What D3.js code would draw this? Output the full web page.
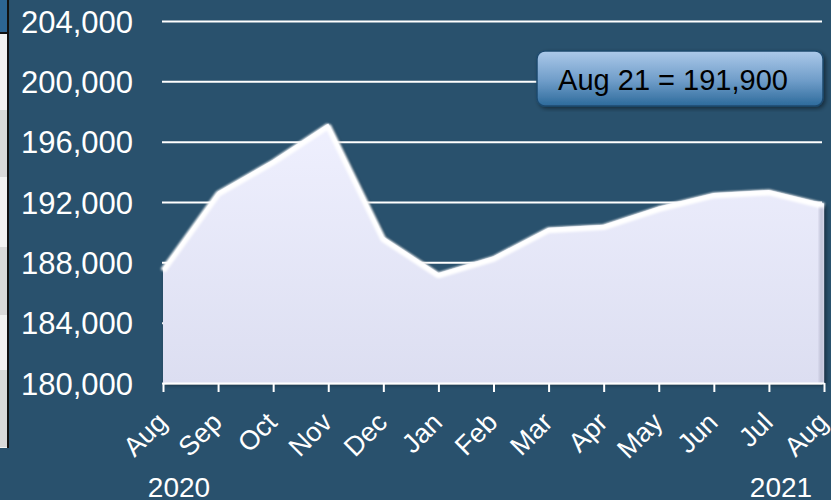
<!DOCTYPE html>
<html>
<head>
<meta charset="utf-8">
<script src="https://cdn.jsdelivr.net/npm/d3@7"></script>
<style>
  body { margin: 0; background: #29516d; }
  svg { display: block; font-family: "Liberation Sans", Arial, sans-serif; }
</style>
</head>
<body>
<div id="chart"></div>
<script>
// monthly values, Aug 2020 .. Aug 2021
const months = ["Aug", "Sep", "Oct", "Nov", "Dec", "Jan", "Feb", "Mar", "Apr", "May", "Jun", "Jul", "Aug"]
const values = [187600, 192700, 194800, 197200, 189700, 187300, 188400, 190300, 190500, 191700, 192600, 192800, 191900]
const yTicks = [180000, 184000, 188000, 192000, 196000, 200000, 204000]
const years = [{ label: "2020", at: 0 }, { label: "2021", at: 12 }]
const note = "Aug 21 = 191,900"

const width = 831
const height = 500
const marginLeft = 163      // x of first month
const marginRight = 7
const marginTop = 21        // y of top gridline
const marginBottom = 117    // 500 - 383
const bg = "#29516d"

const svg = d3.select("#chart")
  .append("svg")
  .attr("width", width)
  .attr("height", height)

const defs = svg.append("defs")

const areaGrad = defs.append("linearGradient")
  .attr("id", "areaGrad").attr("x1", 0).attr("y1", 0).attr("x2", 0).attr("y2", 1)
areaGrad.append("stop").attr("offset", "0%").attr("stop-color", "#eff0fe")
areaGrad.append("stop").attr("offset", "100%").attr("stop-color", "#dcdef1")

const boxGrad = defs.append("linearGradient")
  .attr("id", "boxGrad").attr("x1", 0).attr("y1", 0).attr("x2", 0).attr("y2", 1)
boxGrad.append("stop").attr("offset", "0%").attr("stop-color", "#acc9ea")
boxGrad.append("stop").attr("offset", "55%").attr("stop-color", "#6e9cc8")
boxGrad.append("stop").attr("offset", "100%").attr("stop-color", "#2d6a9b")

const shadow = defs.append("filter").attr("id", "shadow")
  .attr("x", "-10%").attr("y", "-10%").attr("width", "120%").attr("height", "120%")
shadow.append("feDropShadow")
  .attr("dx", 2).attr("dy", 2).attr("stdDeviation", 2)
  .attr("flood-color", "#000").attr("flood-opacity", 0.45)

const soft = defs.append("filter").attr("id", "soft")
soft.append("feGaussianBlur").attr("stdDeviation", 0.8)

// background
svg.append("rect").attr("width", width).attr("height", height).attr("fill", bg)

// left page strip (cropped neighbour)
const strip = svg.append("g")
strip.append("rect").attr("x", 0).attr("y", 33).attr("width", 8).attr("height", 415).attr("fill", "#f2f2f2")
;[[110, 67], [247, 68], [370, 77]].forEach(([y, h]) => {
  strip.append("rect").attr("x", 0).attr("y", y).attr("width", 8).attr("height", h).attr("fill", "#d9d9d9")
})
strip.append("rect").attr("x", 0).attr("y", 0).attr("width", 8).attr("height", 33).attr("fill", "#2c6593")
strip.append("rect").attr("x", 0).attr("y", 32).attr("width", 8).attr("height", 2).attr("fill", "#111")
strip.append("rect").attr("x", 7).attr("y", 0).attr("width", 2).attr("height", 448).attr("fill", "#111")

// scales
const x = d3.scaleLinear([0, months.length - 1], [marginLeft, width - marginRight])
const y = d3.scaleLinear([180000, 204000], [height - marginBottom, marginTop])

// gridlines + y labels
const yAxis = d3.axisLeft(y)
  .tickValues(yTicks)
  .tickFormat(d3.format(","))
  .tickSize(0)
  .tickPadding(30)

svg.append("g")
  .attr("transform", `translate(${marginLeft},0)`)
  .call(yAxis)
  .call(g => g.select(".domain").remove())
  .call(g => g.selectAll(".tick line").clone()
    .attr("x1", -1)
    .attr("x2", width - marginRight - marginLeft - 2)
    .attr("stroke", "#fff")
    .attr("stroke-width", 2))
  .call(g => g.selectAll(".tick text")
    .attr("fill", "#fff")
    .attr("font-size", 31)
    .attr("dy", "0.36em"))

// area
const area = d3.area()
  .x((d, i) => x(i))
  .y0(y(180000))
  .y1(d => y(d))

svg.append("path")
  .datum(values)
  .attr("d", area)
  .attr("fill", "url(#areaGrad)")
  .attr("filter", "url(#shadow)")

// bevel highlight on top edge
const line = d3.line()
  .x((d, i) => x(i))
  .y(d => y(d))

svg.append("path")
  .datum(values)
  .attr("d", line)
  .attr("fill", "none")
  .attr("stroke", "#ffffff")
  .attr("stroke-width", 6)
  .attr("stroke-linejoin", "bevel")
  .attr("transform", "translate(0,2.5)")
  .attr("filter", "url(#soft)")

// right edge shading
svg.append("rect")
  .attr("x", x(months.length - 1) - 5)
  .attr("y", y(values[values.length - 1]) + 4)
  .attr("width", 5)
  .attr("height", y(180000) - y(values[values.length - 1]) - 4)
  .attr("fill", "#b9bbd0")
  .attr("opacity", 0.7)
  .attr("filter", "url(#soft)")

// x axis
const xAxis = d3.axisBottom(x)
  .tickValues(d3.range(months.length))
  .tickFormat(i => months[i])
  .tickSize(9)
  .tickSizeOuter(0)

svg.append("g")
  .attr("transform", `translate(0,${y(180000)})`)
  .call(xAxis)
  .call(g => g.select(".domain").attr("stroke", "#fff").attr("stroke-width", 2))
  .call(g => g.selectAll(".tick line").attr("stroke", "#fff").attr("stroke-width", 2))
  .call(g => g.selectAll(".tick text")
    .attr("fill", "#fff")
    .attr("font-size", 27)
    .attr("text-anchor", "end")
    .attr("dy", 0)
    .attr("y", 0)
    .attr("transform", "translate(5,41) rotate(-45)"))

// year labels
svg.append("g")
  .selectAll("text")
  .data(years)
  .join("text")
  .attr("x", d => x(d.at) + (d.at === 0 ? 16 : -43))
  .attr("y", 497)
  .attr("text-anchor", "middle")
  .attr("fill", "#fff")
  .attr("font-size", 28)
  .text(d => d.label)

// callout box
const box = svg.append("g").attr("transform", "translate(537,51)")
box.append("rect")
  .attr("width", 286)
  .attr("height", 55)
  .attr("rx", 8)
  .attr("fill", "url(#boxGrad)")
  .attr("stroke", "#1e4a6e")
  .attr("stroke-width", 1.5)
  .attr("filter", "url(#shadow)")
box.append("text")
  .attr("x", 136)
  .attr("y", 29)
  .attr("dy", "0.36em")
  .attr("text-anchor", "middle")
  .attr("fill", "#000")
  .attr("font-size", 29)
  .text(note)
</script>
</body>
</html>
